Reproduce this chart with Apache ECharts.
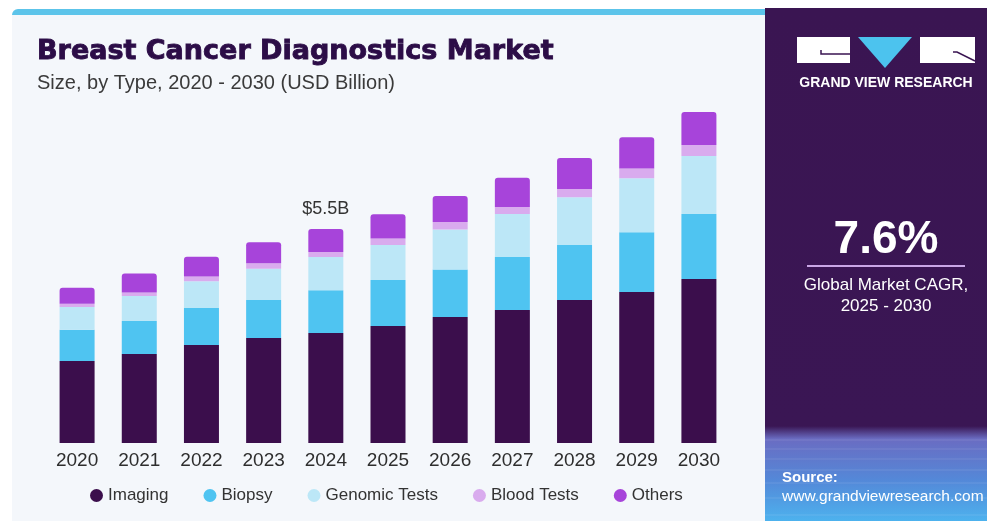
<!DOCTYPE html>
<html>
<head>
<meta charset="utf-8">
<title>Breast Cancer Diagnostics Market</title>
<script src="https://cdn.jsdelivr.net/npm/echarts@6/dist/echarts.min.js"></script>
<style>
  html, body { margin: 0; padding: 0; background: #ffffff; }
  #chart { width: 987px; height: 521px; }
</style>
</head>
<body>
<div id="chart"></div>
<script>
// Market size by diagnostic type, USD billion
const years = ['2020', '2021', '2022', '2023', '2024', '2025', '2026', '2027', '2028', '2029', '2030'];
const imaging = [2.11, 2.29, 2.52, 2.70, 2.83, 3.01, 3.24, 3.42, 3.68, 3.88, 4.22];
const biopsy  = [0.80, 0.85, 0.95, 0.98, 1.10, 1.18, 1.22, 1.36, 1.41, 1.54, 1.67];
const genomic = [0.59, 0.64, 0.69, 0.80, 0.85, 0.90, 1.03, 1.11, 1.23, 1.39, 1.49];
const blood   = [0.08, 0.09, 0.12, 0.14, 0.13, 0.17, 0.19, 0.18, 0.21, 0.25, 0.28];
const others  = [0.41, 0.49, 0.51, 0.54, 0.59, 0.62, 0.67, 0.75, 0.80, 0.80, 0.85];
const seriesNames = ['Imaging', 'Biopsy', 'Genomic Tests', 'Blood Tests', 'Others'];
const highlightYear = '2024';
const cagrText = '7.6%';

const colors = ['#3b0e4c', '#4fc4f1', '#bce7f7', '#d9abee', '#a744da'];
const font = '"Liberation Sans", Arial, sans-serif';

const totals = years.map((_, i) => imaging[i] + biopsy[i] + genomic[i] + blood[i] + others[i]);
const hlIndex = years.indexOf(highlightYear);

function stackSeries(name, values, idx, isTop) {
  return {
    name: name,
    type: 'bar',
    stack: 'market',
    barWidth: 35,
    itemStyle: { color: colors[idx], borderRadius: isTop ? [3, 3, 0, 0] : 0 },
    emphasis: { disabled: true },
    data: values.map((v, i) => {
      if (isTop && i === hlIndex) {
        return {
          value: v,
          label: {
            show: true,
            position: 'top',
            distance: 11,
            formatter: () => '$' + totals[i].toFixed(1) + 'B',
            fontFamily: font,
            fontSize: 18,
            color: '#333333'
          }
        };
      }
      return v;
    })
  };
}

const chart = echarts.init(document.getElementById('chart'), null, { renderer: 'canvas' });

chart.setOption({
  animation: false,
  backgroundColor: '#ffffff',
  title: {
    left: 32,
    top: 33,
    text: 'Breast Cancer Diagnostics Market',
    subtext: 'Size, by Type, 2020 - 2030 (USD Billion)',
    itemGap: 8,
    textStyle: {
      fontFamily: '"DejaVu Sans", sans-serif', fontWeight: 'bold', fontSize: 27, color: '#2c0d47',
      textBorderColor: '#2c0d47', textBorderWidth: 0.9
    },
    subtextStyle: { fontFamily: font, fontSize: 20, color: '#3a3a3a' }
  },
  legend: {
    left: 85,
    top: 482,
    icon: 'circle',
    itemWidth: 13,
    itemHeight: 13,
    itemGap: 35,
    selectedMode: false,
    textStyle: { fontFamily: font, fontSize: 17, color: '#333333', padding: [0, 0, 0, 0] },
    data: seriesNames
  },
  grid: { left: 46, right: 257, top: 93, bottom: 78, containLabel: false },
  xAxis: {
    type: 'category',
    data: years,
    axisLine: { show: false },
    axisTick: { show: false },
    axisLabel: { fontFamily: font, fontSize: 19, color: '#2e2e2e', margin: 8 }
  },
  yAxis: {
    type: 'value',
    min: 0,
    max: 9,
    show: false,
    splitLine: { show: false }
  },
  series: [
    stackSeries(seriesNames[0], imaging, 0, false),
    stackSeries(seriesNames[1], biopsy, 1, false),
    stackSeries(seriesNames[2], genomic, 2, false),
    stackSeries(seriesNames[3], blood, 3, false),
    stackSeries(seriesNames[4], others, 4, true)
  ],
  graphic: [
    // light chart panel with cyan top edge
    { type: 'rect', z: -20, shape: { x: 12, y: 9, width: 760, height: 520, r: [6, 0, 0, 0] }, style: { fill: '#5cc4ea' } },
    { type: 'rect', z: -19, shape: { x: 12, y: 15, width: 760, height: 510 }, style: { fill: '#f4f7fb' } },
    // dark side panel
    {
      type: 'rect', z: -10, shape: { x: 765, y: 8, width: 222, height: 513 },
      style: {
        fill: new echarts.graphic.LinearGradient(0, 0, 0, 1, [
          { offset: 0, color: '#3a1552' },
          { offset: 0.815, color: '#3a1654' },
          { offset: 0.84, color: '#6a6cc2' },
          { offset: 0.92, color: '#5488d8' },
          { offset: 1, color: '#4db2ee' }
        ])
      }
    },
    // faint grid texture in the lower band
    ...[440, 449, 459, 470, 483, 498, 515].map(y => ({
      type: 'line', z: -9, shape: { x1: 765, y1: y, x2: 987, y2: y },
      style: { stroke: 'rgba(255,255,255,0.12)', lineWidth: 1 }
    })),
    // logo
    { type: 'rect', z: 5, shape: { x: 797, y: 37, width: 53, height: 26 }, style: { fill: '#ffffff' } },
    { type: 'polyline', z: 6, shape: { points: [[821, 50], [821, 54], [850, 54]] }, style: { stroke: '#3a1552', lineWidth: 1.5, fill: null } },
    { type: 'polygon', z: 5, shape: { points: [[858, 37], [912, 37], [885, 68]] }, style: { fill: '#4cc3ee' } },
    { type: 'rect', z: 5, shape: { x: 920, y: 37, width: 55, height: 26 }, style: { fill: '#ffffff' } },
    { type: 'polyline', z: 6, shape: { points: [[953, 52], [957, 52], [975, 61]] }, style: { stroke: '#3a1552', lineWidth: 1.5, fill: null } },
    {
      type: 'text', z: 5, style: {
        x: 886, y: 83, text: 'GRAND VIEW RESEARCH', textAlign: 'center', textVerticalAlign: 'middle',
        font: 'bold 14px "Liberation Sans", Arial, sans-serif', fill: '#ffffff'
      }
    },
    // CAGR callout
    {
      type: 'text', z: 5, style: {
        x: 886, y: 240, text: cagrText, textAlign: 'center', textVerticalAlign: 'middle',
        font: 'bold 46px "Liberation Sans", Arial, sans-serif', fill: '#ffffff'
      }
    },
    { type: 'line', z: 5, shape: { x1: 807, y1: 266, x2: 965, y2: 266 }, style: { stroke: '#c9a6e6', lineWidth: 2 } },
    {
      type: 'text', z: 5, style: {
        x: 886, y: 285, text: 'Global Market CAGR,', textAlign: 'center', textVerticalAlign: 'middle',
        font: '17px "Liberation Sans", Arial, sans-serif', fill: '#ffffff'
      }
    },
    {
      type: 'text', z: 5, style: {
        x: 886, y: 306, text: '2025 - 2030', textAlign: 'center', textVerticalAlign: 'middle',
        font: '17px "Liberation Sans", Arial, sans-serif', fill: '#ffffff'
      }
    },
    // source note
    {
      type: 'text', z: 5, style: {
        x: 782, y: 478, text: 'Source:', textVerticalAlign: 'middle',
        font: 'bold 15px "Liberation Sans", Arial, sans-serif', fill: '#ffffff'
      }
    },
    {
      type: 'text', z: 5, style: {
        x: 782, y: 497, text: 'www.grandviewresearch.com', textVerticalAlign: 'middle',
        font: '15.5px "Liberation Sans", Arial, sans-serif', fill: '#ffffff'
      }
    }
  ]
});
</script>
</body>
</html>
